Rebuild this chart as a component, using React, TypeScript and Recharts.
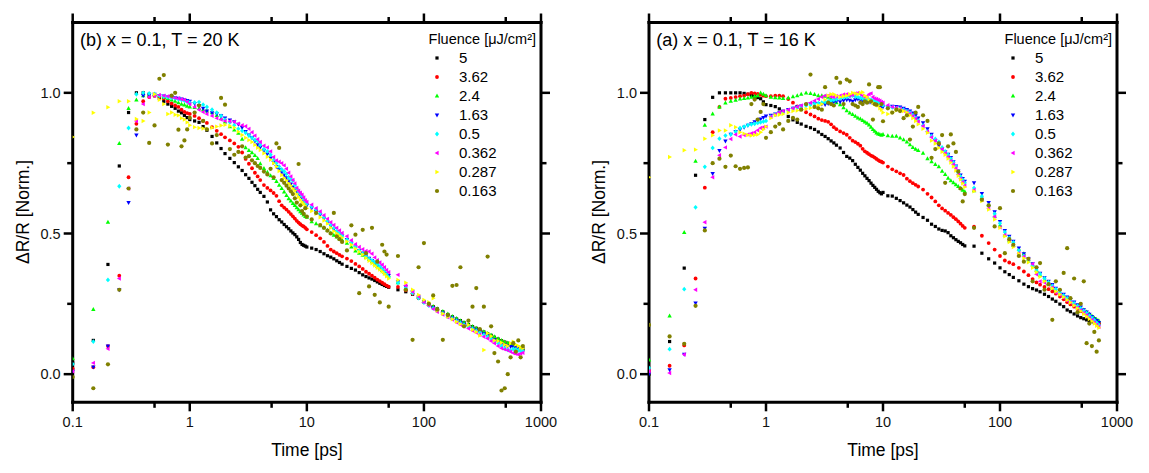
import { ScatterChart, Scatter, XAxis, YAxis } from "recharts";

// shared time grid [ps]
const TIMES = [
  0.1, 0.15, 0.2, 0.25, 0.3, 0.35, 0.4, 0.45, 0.5, 0.55, 0.6, 0.65, 0.7, 0.75, 0.8, 0.85, 0.9, 0.95, 1.0,
  1.1, 1.2, 1.3, 1.4, 1.55, 1.7, 1.85, 2.0, 2.2, 2.4, 2.6, 2.8, 3.0, 3.2, 3.4, 3.6, 3.8, 4.0, 4.3, 4.6, 4.9,
  5.2, 5.5, 5.8, 6.1, 6.4, 6.7, 7.0, 7.3, 7.6, 7.9, 8.2, 8.5, 8.8, 9.1, 9.4, 9.7,
  10, 11, 12, 13, 14, 15, 16, 17, 18, 19, 20, 22, 24, 26, 28, 30, 32, 34, 36, 38, 40, 42, 44, 46, 48, 50,
  60, 70, 80, 90, 100, 110, 120, 130, 145, 160, 175, 190, 205, 220, 240, 260, 280, 300, 325, 350, 375, 400,
  430, 460, 490, 520, 550, 580, 610, 640, 670, 700,
];

// (b) T = 20 K
const K20_F5 = [
  0.04, 0.12, 0.39, 0.74, 0.93, 1.0, 1.0, 0.995, 0.99, 0.98, 0.97, 0.96, 0.952, 0.945, 0.935, 0.929, 0.92, 0.912, 0.905,
  0.9, 0.895, 0.88, 0.867, 0.845, 0.822, 0.802, 0.784, 0.767, 0.752, 0.737, 0.724, 0.709, 0.696, 0.682, 0.67, 0.657, 0.646, 0.632, 0.612, 0.584,
  0.57, 0.56, 0.549, 0.541, 0.532, 0.524, 0.517, 0.509, 0.502, 0.496, 0.488, 0.479, 0.468, 0.461, 0.458, 0.455,
  0.452, 0.448, 0.443, 0.436, 0.428, 0.421, 0.416, 0.41, 0.403, 0.397, 0.391, 0.383, 0.376, 0.37, 0.361, 0.353, 0.347, 0.342, 0.338, 0.333, 0.328, 0.323, 0.319, 0.315, 0.312, 0.309,
  0.3, 0.293, 0.284, 0.272, 0.258, 0.248, 0.24, 0.232, 0.222, 0.212, 0.204, 0.196, 0.19, 0.183, 0.176, 0.169, 0.163, 0.157, 0.15, 0.144, 0.138, 0.131,
  0.125, 0.119, 0.114, 0.11, 0.106, 0.102, 0.098, 0.095, 0.092, 0.09,
];
const K20_F362 = [
  0.02, 0.025, 0.1, 0.35, 0.7, 0.89, 0.97, 0.985, 0.99, 0.985, 0.98, 0.97, 0.962, 0.955, 0.95, 0.94, 0.932, 0.928, 0.925,
  0.918, 0.91, 0.9, 0.893, 0.878, 0.865, 0.853, 0.842, 0.831, 0.82, 0.808, 0.788, 0.765, 0.748, 0.732, 0.716, 0.703, 0.69, 0.672, 0.662, 0.653,
  0.644, 0.634, 0.615, 0.6, 0.592, 0.585, 0.577, 0.569, 0.561, 0.553, 0.545, 0.539, 0.533, 0.528, 0.525, 0.52,
  0.515, 0.505, 0.494, 0.483, 0.47, 0.456, 0.443, 0.436, 0.43, 0.424, 0.419, 0.411, 0.402, 0.392, 0.383, 0.374, 0.364, 0.357, 0.35, 0.343, 0.336, 0.331, 0.325, 0.32, 0.315, 0.311,
  0.31, 0.298, 0.286, 0.27, 0.256, 0.246, 0.238, 0.228, 0.219, 0.21, 0.201, 0.194, 0.186, 0.18, 0.172, 0.166, 0.16, 0.153, 0.146, 0.14, 0.135, 0.128,
  0.122, 0.117, 0.112, 0.108, 0.104, 0.1, 0.096, 0.093, 0.09, 0.087,
];
const K20_F24 = [
  0.055, 0.23, 0.54, 0.82, 0.945, 0.975, 0.99, 0.992, 0.995, 0.99, 0.985, 0.98, 0.975, 0.97, 0.965, 0.96, 0.957, 0.953, 0.95,
  0.948, 0.945, 0.94, 0.936, 0.93, 0.92, 0.908, 0.897, 0.88, 0.868, 0.857, 0.835, 0.805, 0.795, 0.787, 0.778, 0.767, 0.748, 0.731, 0.718, 0.706,
  0.696, 0.685, 0.672, 0.66, 0.648, 0.635, 0.624, 0.616, 0.607, 0.6, 0.592, 0.585, 0.578, 0.572, 0.566, 0.561,
  0.558, 0.542, 0.535, 0.528, 0.521, 0.512, 0.502, 0.494, 0.488, 0.482, 0.477, 0.466, 0.452, 0.438, 0.43, 0.423, 0.416, 0.409, 0.4, 0.392, 0.384, 0.376, 0.369, 0.362, 0.356, 0.35,
  0.325, 0.306, 0.291, 0.276, 0.26, 0.25, 0.241, 0.233, 0.223, 0.214, 0.205, 0.198, 0.19, 0.184, 0.177, 0.17, 0.164, 0.158, 0.151, 0.145, 0.139, 0.133,
  0.126, 0.12, 0.115, 0.111, 0.107, 0.103, 0.099, 0.096, 0.093, 0.09,
];
const K20_F163 = [
  0.01, 0.025, 0.1, 0.3, 0.61, 0.85, 0.99, 0.993, 0.995, 0.99, 0.988, 0.985, 0.985, 0.982, 0.98, 0.978, 0.975, 0.972, 0.97,
  0.962, 0.955, 0.945, 0.935, 0.929, 0.925, 0.918, 0.91, 0.903, 0.897, 0.888, 0.876, 0.862, 0.85, 0.84, 0.828, 0.815, 0.806, 0.795, 0.782, 0.768,
  0.752, 0.738, 0.727, 0.718, 0.708, 0.698, 0.686, 0.676, 0.666, 0.658, 0.65, 0.643, 0.634, 0.626, 0.617, 0.609,
  0.6, 0.59, 0.578, 0.566, 0.553, 0.54, 0.527, 0.515, 0.506, 0.498, 0.491, 0.478, 0.465, 0.452, 0.439, 0.43, 0.42, 0.412, 0.404, 0.396, 0.389, 0.381, 0.373, 0.365, 0.357, 0.35,
  0.328, 0.31, 0.292, 0.274, 0.257, 0.246, 0.236, 0.227, 0.217, 0.208, 0.199, 0.191, 0.184, 0.177, 0.17, 0.163, 0.157, 0.15, 0.143, 0.136, 0.13, 0.122,
  0.115, 0.108, 0.103, 0.1, 0.098, 0.096, 0.094, 0.092, 0.09, 0.088,
];
const K20_F05 = [
  0.036, 0.116, 0.335, 0.668, 0.875, 0.995, 1.0, 0.998, 0.995, 0.99, 0.987, 0.985, 0.982, 0.98, 0.977, 0.975, 0.972, 0.968, 0.965,
  0.966, 0.967, 0.958, 0.95, 0.94, 0.93, 0.918, 0.905, 0.895, 0.885, 0.872, 0.865, 0.858, 0.848, 0.84, 0.833, 0.828, 0.815, 0.8, 0.792, 0.78,
  0.762, 0.75, 0.738, 0.728, 0.721, 0.712, 0.7, 0.692, 0.688, 0.672, 0.66, 0.648, 0.64, 0.632, 0.622, 0.612,
  0.606, 0.596, 0.585, 0.572, 0.558, 0.545, 0.532, 0.52, 0.508, 0.5, 0.491, 0.478, 0.466, 0.452, 0.44, 0.428, 0.418, 0.41, 0.404, 0.398, 0.391, 0.383, 0.374, 0.365, 0.355, 0.345,
  0.325, 0.306, 0.288, 0.27, 0.254, 0.244, 0.234, 0.225, 0.215, 0.205, 0.197, 0.189, 0.182, 0.175, 0.168, 0.161, 0.154, 0.148, 0.14, 0.133, 0.126, 0.118,
  0.11, 0.1, 0.092, 0.086, 0.084, 0.09, 0.088, 0.085, 0.083, 0.082,
];
const K20_F0362 = [
  0.01, 0.04, 0.09, 0.34, 0.66, 0.9, 0.96, 0.985, 0.99, 0.992, 0.99, 0.988, 0.985, 0.982, 0.98, 0.977, 0.975, 0.968, 0.96,
  0.95, 0.94, 0.932, 0.925, 0.918, 0.91, 0.905, 0.9, 0.899, 0.897, 0.89, 0.885, 0.881, 0.872, 0.86, 0.848, 0.835, 0.825, 0.812, 0.806, 0.792,
  0.772, 0.76, 0.755, 0.75, 0.742, 0.73, 0.716, 0.703, 0.69, 0.678, 0.662, 0.652, 0.645, 0.638, 0.628, 0.618,
  0.612, 0.602, 0.59, 0.578, 0.565, 0.552, 0.54, 0.53, 0.52, 0.511, 0.502, 0.49, 0.476, 0.462, 0.452, 0.444, 0.438, 0.436, 0.428, 0.415, 0.405, 0.397, 0.389, 0.38, 0.37, 0.362,
  0.353, 0.315, 0.293, 0.276, 0.256, 0.244, 0.232, 0.222, 0.212, 0.202, 0.194, 0.184, 0.176, 0.17, 0.162, 0.155, 0.148, 0.14, 0.133, 0.127, 0.118, 0.11,
  0.1, 0.092, 0.088, 0.085, 0.08, 0.075, 0.072, 0.07, 0.073, 0.076,
];
const K20_F0287 = [
  0.843, 0.929, 0.949, 0.97, 0.97, 0.907, 0.9, 0.93, 0.995, 0.975, 0.96, 0.925, 0.93, 0.922, 0.92, 0.91, 0.905, 0.895, 0.885,
  0.878, 0.875, 0.873, 0.872, 0.876, 0.88, 0.884, 0.886, 0.882, 0.876, 0.862, 0.85, 0.84, 0.832, 0.825, 0.815, 0.805, 0.797, 0.785, 0.773, 0.762,
  0.75, 0.738, 0.722, 0.708, 0.697, 0.688, 0.678, 0.67, 0.66, 0.652, 0.64, 0.63, 0.62, 0.612, 0.605, 0.598,
  0.59, 0.58, 0.57, 0.558, 0.546, 0.535, 0.52, 0.508, 0.5, 0.492, 0.485, 0.472, 0.46, 0.446, 0.435, 0.425, 0.413, 0.403, 0.394, 0.386, 0.378, 0.372, 0.365, 0.357, 0.348, 0.34,
  0.335, 0.325, 0.3, 0.282, 0.264, 0.256, 0.27, 0.226, 0.215, 0.204, 0.195, 0.186, 0.178, 0.172, 0.175, 0.158, 0.15, 0.137, 0.086, 0.145, 0.135, 0.12,
  0.118, 0.112, 0.105, 0.1, 0.11, 0.115, 0.105, 0.1, 0.095, 0.092,
];
const K20_F0163 = [
  -0.01, -0.05, 0.035, 0.3, 0.66, 0.87, 0.93, 0.822, 0.884, 1.05, 1.063, 0.816, 0.99, 1.0, 0.869, 0.81, 0.831, 0.87, 0.911,
  0.93, 0.955, 0.9, 0.87, 0.82, 0.85, 0.982, 0.958, 0.8, 0.78, 0.79, 0.81, 0.77, 0.775, 0.76, 0.75, 0.74, 0.733, 0.72, 0.71, 0.73,
  0.7, 0.82, 0.804, 0.69, 0.68, 0.67, 0.66, 0.65, 0.64, 0.625, 0.61, 0.747, 0.6, 0.58, 0.57, 0.59,
  0.56, 0.55, 0.573, 0.53, 0.52, 0.51, 0.5, 0.573, 0.49, 0.48, 0.47, 0.44, 0.529, 0.496, 0.288, 0.513, 0.43, 0.312, 0.52, 0.282, 0.4, 0.255, 0.46, 0.436, 0.425, 0.24,
  0.42, 0.3, 0.122, 0.38, 0.466, 0.25, 0.28, 0.23, 0.122, 0.21, 0.314, 0.317, 0.38, 0.17, 0.19, 0.24, 0.306, 0.16, 0.24, 0.418, 0.17, 0.075,
  0.045, -0.058, -0.05, 0.0, 0.06, 0.11, 0.08, 0.12, 0.06, 0.1,
];

// (a) T = 16 K
const K16_F5 = [
  0.0, 0.116, 0.377, 0.707, 0.905, 0.984, 1.0, 1.0, 1.0, 1.0, 1.0, 0.998, 0.995, 0.99, 0.988, 0.983, 0.979, 0.968, 0.958,
  0.955, 0.951, 0.943, 0.934, 0.916, 0.904, 0.895, 0.889, 0.881, 0.876, 0.87, 0.861, 0.852, 0.845, 0.837, 0.829, 0.822, 0.814, 0.804, 0.788, 0.774,
  0.768, 0.759, 0.746, 0.735, 0.725, 0.714, 0.705, 0.696, 0.688, 0.679, 0.671, 0.664, 0.657, 0.65, 0.645, 0.641,
  0.646, 0.634, 0.633, 0.625, 0.617, 0.609, 0.601, 0.594, 0.585, 0.576, 0.568, 0.557, 0.547, 0.533, 0.525, 0.516, 0.511, 0.509, 0.503, 0.492, 0.485, 0.478, 0.472, 0.467, 0.461, 0.456,
  0.455, 0.43, 0.41, 0.395, 0.378, 0.364, 0.354, 0.344, 0.332, 0.32, 0.311, 0.304, 0.299, 0.293, 0.284, 0.276, 0.267, 0.259, 0.249, 0.24, 0.228, 0.222,
  0.214, 0.207, 0.201, 0.197, 0.193, 0.19, 0.187, 0.184, 0.182, 0.18,
];
const K16_F362 = [
  0.012, 0.03, 0.102, 0.34, 0.663, 0.86, 0.95, 0.979, 0.982, 0.985, 0.988, 0.99, 0.995, 1.0, 0.998, 0.996, 0.993, 0.99, 0.988,
  0.988, 0.99, 0.99, 0.988, 0.978, 0.965, 0.952, 0.942, 0.931, 0.923, 0.916, 0.908, 0.903, 0.9, 0.897, 0.888, 0.878, 0.871, 0.863, 0.857, 0.851,
  0.84, 0.83, 0.825, 0.819, 0.812, 0.801, 0.792, 0.787, 0.782, 0.777, 0.774, 0.77, 0.765, 0.761, 0.757, 0.755,
  0.752, 0.738, 0.728, 0.721, 0.714, 0.708, 0.695, 0.686, 0.679, 0.673, 0.667, 0.656, 0.641, 0.628, 0.614, 0.6, 0.589, 0.581, 0.573, 0.566, 0.558, 0.551, 0.543, 0.535, 0.527, 0.52,
  0.524, 0.492, 0.466, 0.443, 0.42, 0.404, 0.397, 0.391, 0.378, 0.365, 0.352, 0.338, 0.326, 0.318, 0.31, 0.302, 0.294, 0.286, 0.276, 0.266, 0.256, 0.248,
  0.24, 0.232, 0.224, 0.217, 0.21, 0.203, 0.197, 0.19, 0.185, 0.18,
];
const K16_F24 = [
  0.051, 0.207, 0.504, 0.757, 0.885, 0.925, 0.95, 0.964, 0.97, 0.974, 0.978, 0.98, 0.982, 0.985, 0.988, 0.99, 1.0, 0.995, 0.99,
  0.985, 0.983, 0.982, 0.98, 0.982, 0.986, 0.99, 0.995, 1.0, 0.998, 0.994, 0.99, 0.99, 0.988, 0.985, 0.978, 0.971, 0.965, 0.958, 0.947, 0.937,
  0.929, 0.923, 0.917, 0.911, 0.907, 0.902, 0.897, 0.892, 0.886, 0.878, 0.87, 0.864, 0.858, 0.854, 0.852, 0.85,
  0.852, 0.848, 0.846, 0.846, 0.84, 0.834, 0.826, 0.816, 0.806, 0.8, 0.795, 0.786, 0.766, 0.755, 0.746, 0.738, 0.722, 0.71, 0.697, 0.688, 0.681, 0.674, 0.667, 0.66, 0.654, 0.649,
  0.652, 0.628, 0.602, 0.562, 0.53, 0.495, 0.475, 0.458, 0.444, 0.428, 0.408, 0.388, 0.37, 0.352, 0.336, 0.32, 0.307, 0.298, 0.288, 0.277, 0.268, 0.26,
  0.251, 0.243, 0.236, 0.228, 0.221, 0.214, 0.207, 0.2, 0.195, 0.19,
];
const K16_F163 = [
  0.0, 0.015, 0.07, 0.253, 0.518, 0.713, 0.795, 0.828, 0.852, 0.862, 0.869, 0.877, 0.884, 0.89, 0.897, 0.902, 0.907, 0.912, 0.917,
  0.92, 0.924, 0.929, 0.934, 0.94, 0.945, 0.95, 0.953, 0.957, 0.96, 0.963, 0.962, 0.96, 0.958, 0.962, 0.965, 0.968, 0.97, 0.968, 0.972, 0.975,
  0.973, 0.97, 0.975, 0.978, 0.976, 0.972, 0.97, 0.969, 0.967, 0.966, 0.964, 0.962, 0.96, 0.958, 0.955, 0.952,
  0.95, 0.948, 0.952, 0.951, 0.949, 0.945, 0.94, 0.935, 0.928, 0.92, 0.91, 0.893, 0.872, 0.852, 0.83, 0.812, 0.8, 0.79, 0.781, 0.77, 0.755, 0.74, 0.722, 0.708, 0.695, 0.685,
  0.68, 0.642, 0.61, 0.577, 0.542, 0.51, 0.49, 0.472, 0.448, 0.428, 0.41, 0.392, 0.374, 0.358, 0.342, 0.33, 0.318, 0.305, 0.295, 0.284, 0.274, 0.265,
  0.256, 0.246, 0.238, 0.229, 0.221, 0.213, 0.205, 0.197, 0.19, 0.183,
];
const K16_F05 = [
  0.022, 0.089, 0.302, 0.593, 0.737, 0.804, 0.837, 0.848, 0.852, 0.862, 0.875, 0.88, 0.885, 0.888, 0.89, 0.893, 0.895, 0.898, 0.9,
  0.915, 0.923, 0.927, 0.93, 0.937, 0.945, 0.948, 0.95, 0.955, 0.958, 0.962, 0.963, 0.965, 0.967, 0.97, 0.972, 0.975, 0.977, 0.98, 0.983, 0.985,
  0.988, 0.99, 0.987, 0.985, 0.982, 0.98, 0.979, 0.978, 0.976, 0.975, 0.972, 0.97, 0.967, 0.965, 0.962, 0.96,
  0.956, 0.951, 0.948, 0.946, 0.944, 0.94, 0.935, 0.93, 0.921, 0.911, 0.901, 0.884, 0.862, 0.846, 0.836, 0.826, 0.806, 0.792, 0.78, 0.766, 0.752, 0.738, 0.716, 0.703, 0.691, 0.68,
  0.662, 0.632, 0.6, 0.57, 0.536, 0.505, 0.484, 0.468, 0.44, 0.42, 0.402, 0.386, 0.37, 0.356, 0.34, 0.327, 0.314, 0.302, 0.29, 0.28, 0.27, 0.261,
  0.252, 0.243, 0.234, 0.225, 0.217, 0.208, 0.2, 0.192, 0.183, 0.175,
];
const K16_F0362 = [
  0.01, 0.004, 0.07, 0.3, 0.54, 0.7, 0.778, 0.806, 0.836, 0.852, 0.845, 0.85, 0.852, 0.856, 0.86, 0.867, 0.875, 0.878, 0.88,
  0.915, 0.923, 0.93, 0.935, 0.94, 0.945, 0.95, 0.955, 0.96, 0.965, 0.972, 0.978, 0.985, 0.99, 0.99, 0.986, 0.985, 0.988, 0.99, 0.994, 0.995,
  0.99, 0.992, 0.998, 1.0, 0.995, 0.99, 0.985, 0.988, 0.995, 0.998, 0.985, 0.98, 0.978, 0.975, 0.972, 0.968,
  0.965, 0.956, 0.95, 0.947, 0.943, 0.936, 0.932, 0.926, 0.918, 0.908, 0.898, 0.882, 0.862, 0.842, 0.83, 0.82, 0.8, 0.785, 0.772, 0.758, 0.745, 0.732, 0.71, 0.695, 0.682, 0.67,
  0.655, 0.62, 0.59, 0.56, 0.522, 0.495, 0.475, 0.458, 0.43, 0.418, 0.41, 0.392, 0.355, 0.33, 0.326, 0.318, 0.308, 0.29, 0.282, 0.272, 0.262, 0.255,
  0.245, 0.236, 0.227, 0.218, 0.21, 0.2, 0.193, 0.184, 0.176, 0.168,
];
const K16_F0287 = [
  0.7, 0.772, 0.796, 0.798, 0.837, 0.849, 0.866, 0.866, 0.885, 0.878, 0.86, 0.855, 0.85, 0.848, 0.85, 0.852, 0.86, 0.87, 0.88,
  0.91, 0.92, 0.922, 0.925, 0.93, 0.935, 0.937, 0.94, 0.943, 0.946, 0.95, 0.955, 0.96, 0.975, 0.99, 0.995, 0.995, 0.99, 0.985, 0.988, 0.99,
  0.995, 1.0, 0.998, 0.995, 1.0, 1.002, 0.99, 0.985, 0.975, 0.97, 0.965, 0.96, 0.957, 0.955, 0.945, 0.94,
  0.93, 0.925, 0.93, 0.938, 0.94, 0.935, 0.93, 0.92, 0.91, 0.9, 0.888, 0.872, 0.858, 0.83, 0.82, 0.805, 0.79, 0.78, 0.766, 0.752, 0.738, 0.724, 0.705, 0.692, 0.678, 0.665,
  0.65, 0.615, 0.585, 0.55, 0.52, 0.49, 0.47, 0.452, 0.428, 0.412, 0.398, 0.378, 0.362, 0.346, 0.33, 0.318, 0.305, 0.294, 0.283, 0.274, 0.264, 0.255,
  0.244, 0.234, 0.224, 0.214, 0.205, 0.196, 0.188, 0.18, 0.172, 0.165,
];
const K16_F0163 = [
  0.175, 0.134, 0.108, 0.243, 0.511, 0.75, 0.766, 0.737, 0.777, 0.739, 0.73, 0.733, 0.735, 0.96, 0.976, 0.905, 0.932, 0.96, 0.84,
  0.86, 0.88, 0.89, 0.87, 0.9, 0.911, 0.905, 0.94, 0.96, 1.065, 0.95, 0.945, 0.94, 1.02, 0.965, 0.96, 0.955, 1.053, 1.036, 0.96, 1.047,
  1.041, 0.96, 0.955, 0.95, 0.965, 0.96, 0.97, 0.965, 1.03, 0.97, 0.905, 0.96, 0.958, 1.02, 1.02, 0.96,
  0.899, 0.945, 0.93, 0.94, 0.935, 0.91, 0.92, 0.834, 0.88, 0.93, 0.95, 0.92, 0.9, 0.769, 0.8, 0.82, 0.85, 0.68, 0.81, 0.852, 0.82, 0.79, 0.72, 0.66, 0.614, 0.64,
  0.52, 0.62, 0.6, 0.525, 0.59, 0.43, 0.48, 0.46, 0.42, 0.4, 0.41, 0.33, 0.38, 0.395, 0.3, 0.32, 0.193, 0.33, 0.3, 0.36, 0.448, 0.27,
  0.34, 0.22, 0.25, 0.33, 0.11, 0.18, 0.1, 0.15, 0.08, 0.12,
];

const FLUENCES = ["5", "3.62", "2.4", "1.63", "0.5", "0.362", "0.287", "0.163"];
const COLORS = ["#000000", "#ff0000", "#00ff00", "#0000ff", "#00ffff", "#ff00ff", "#ffff00", "#808000"];
const SHAPES = ["square", "circle", "up", "down", "diamond", "left", "right", "dot"];

const X_TICKS = [0.1, 0.5, 1, 5, 10, 50, 100, 500, 1000];
const Y_TICKS = [0, 0.25, 0.5, 0.75, 1];

const FONT = "'Liberation Sans', Arial, sans-serif";
const PLOT_TOP = 22.5;
const PLOT_BOTTOM = 402.3;
const H = 473;
const AX = 1; // thickness reserved for each axis

const toPoints = (vals: number[]) =>
  TIMES.map((t, i) => ({ t, v: vals[i] })).filter((p) => typeof p.v === "number");

function Marker({ kind, cx, cy, color }: { kind: string; cx: number; cy: number; color: string }) {
  switch (kind) {
    case "square":
      return <rect x={cx - 1.6} y={cy - 1.6} width={3.2} height={3.2} fill={color} />;
    case "circle":
      return <circle cx={cx} cy={cy} r={1.9} fill={color} />;
    case "up":
      return <polygon points={`${cx},${cy - 2.4} ${cx - 2.2},${cy + 1.6} ${cx + 2.2},${cy + 1.6}`} fill={color} />;
    case "down":
      return <polygon points={`${cx - 2.2},${cy - 1.6} ${cx + 2.2},${cy - 1.6} ${cx},${cy + 2.4}`} fill={color} />;
    case "diamond":
      return <polygon points={`${cx},${cy - 2.4} ${cx + 2.1},${cy} ${cx},${cy + 2.4} ${cx - 2.1},${cy}`} fill={color} />;
    case "left":
      return <polygon points={`${cx - 2.4},${cy} ${cx + 1.6},${cy - 2.2} ${cx + 1.6},${cy + 2.2}`} fill={color} />;
    case "right":
      return <polygon points={`${cx + 2.4},${cy} ${cx - 1.6},${cy - 2.2} ${cx - 1.6},${cy + 2.2}`} fill={color} />;
    default:
      return <circle cx={cx} cy={cy} r={2.1} fill={color} />;
  }
}

const isMajorX = (v: number) => Math.abs(Math.log10(v) - Math.round(Math.log10(v))) < 1e-6;
const isMajorY = (v: number) => Math.abs(v * 2 - Math.round(v * 2)) < 1e-6;

const BottomTick = (p: any) => {
  const major = isMajorX(p.payload.value);
  return (
    <g>
      <line x1={p.x} x2={p.x} y1={p.y} y2={p.y + (major ? 9 : 5.5)} stroke="#000" strokeWidth={2.5} />
      {major && (
        <text x={p.x} y={p.y + 25} textAnchor="middle" fontSize={14.5} fontFamily={FONT} fill="#111">
          {String(p.payload.value)}
        </text>
      )}
    </g>
  );
};
const TopTick = (p: any) => {
  const major = isMajorX(p.payload.value);
  return <line x1={p.x} x2={p.x} y1={p.y} y2={p.y - (major ? 9 : 5.5)} stroke="#000" strokeWidth={2.5} />;
};
const LeftTick = (p: any) => {
  const major = isMajorY(p.payload.value);
  return (
    <g>
      <line x1={p.x} x2={p.x - (major ? 9 : 5.5)} y1={p.y} y2={p.y} stroke="#000" strokeWidth={2.5} />
      {major && (
        <text x={p.x - 12} y={p.y + 5} textAnchor="end" fontSize={14.5} fontFamily={FONT} fill="#111">
          {p.payload.value.toFixed(1)}
        </text>
      )}
    </g>
  );
};
const RightTick = (p: any) => {
  const major = isMajorY(p.payload.value);
  return <line x1={p.x} x2={p.x + (major ? 9 : 5.5)} y1={p.y} y2={p.y} stroke="#000" strokeWidth={2.5} />;
};

const AXIS_LINE = { stroke: "#000", strokeWidth: 3, strokeLinecap: "square" as const };

type PanelProps = {
  left: number;
  width: number;
  plotLeft: number;
  plotRight: number;
  title: string;
  series: number[][];
};

function Panel({ left, width, plotLeft, plotRight, title, series }: PanelProps) {
  const midX = (plotLeft + plotRight) / 2;
  const midY = (PLOT_TOP + PLOT_BOTTOM) / 2;
  const markerX = plotRight - 104;
  const labelX = plotRight - 82;
  return (
    <>
      <div style={{ position: "absolute", left, top: 0 }}>
        <ScatterChart
          width={width}
          height={H}
          margin={{
            top: PLOT_TOP - AX,
            bottom: H - PLOT_BOTTOM - AX,
            left: plotLeft - left - AX,
            right: left + width - plotRight - AX,
          }}
        >
          <XAxis
            xAxisId="b"
            dataKey="t"
            type="number"
            scale="log"
            domain={[0.1, 1000]}
            allowDataOverflow
            ticks={X_TICKS}
            interval={0}
            height={AX}
            tickSize={0}
            tickMargin={0}
            tickLine={false}
            axisLine={AXIS_LINE}
            tick={BottomTick}
          />
          <XAxis
            xAxisId="t"
            orientation="top"
            dataKey="t"
            type="number"
            scale="log"
            domain={[0.1, 1000]}
            allowDataOverflow
            ticks={X_TICKS}
            interval={0}
            height={AX}
            tickSize={0}
            tickMargin={0}
            tickLine={false}
            axisLine={AXIS_LINE}
            tick={TopTick}
          />
          <YAxis
            yAxisId="l"
            dataKey="v"
            type="number"
            domain={[-0.1, 1.25]}
            allowDataOverflow
            ticks={Y_TICKS}
            interval={0}
            width={AX}
            tickSize={0}
            tickMargin={0}
            tickLine={false}
            axisLine={AXIS_LINE}
            tick={LeftTick}
          />
          <YAxis
            yAxisId="r"
            orientation="right"
            dataKey="v"
            type="number"
            domain={[-0.1, 1.25]}
            allowDataOverflow
            ticks={Y_TICKS}
            interval={0}
            width={AX}
            tickSize={0}
            tickMargin={0}
            tickLine={false}
            axisLine={AXIS_LINE}
            tick={RightTick}
          />
          {series.map((vals, i) => (
            <Scatter
              key={FLUENCES[i]}
              name={FLUENCES[i]}
              xAxisId="b"
              yAxisId="l"
              data={toPoints(vals)}
              isAnimationActive={false}
              shape={(p: any) => <Marker kind={SHAPES[i]} color={COLORS[i]} cx={p.cx} cy={p.cy} />}
            />
          ))}
        </ScatterChart>
      </div>

      <div style={{ position: "absolute", left: plotLeft + 7.3, top: 28.5, fontSize: 18, lineHeight: "22px", whiteSpace: "nowrap" }}>
        {title}
      </div>

      <div
        style={{ position: "absolute", left: plotRight - 5 - 200, width: 200, top: 30, fontSize: 14.5, lineHeight: "18px", textAlign: "right", whiteSpace: "nowrap" }}
      >
        Fluence [μJ/cm²]
      </div>
      {FLUENCES.map((f, i) => {
        const rowY = 58.3 + 19 * i;
        return (
          <div key={f}>
            <svg width={8} height={8} style={{ position: "absolute", left: markerX - 4, top: rowY - 4, display: "block" }}>
              <Marker kind={SHAPES[i]} color={COLORS[i]} cx={4} cy={4} />
            </svg>
            <div style={{ position: "absolute", left: labelX, top: rowY - 9, fontSize: 15, lineHeight: "18px", whiteSpace: "nowrap" }}>{f}</div>
          </div>
        );
      })}

      <div style={{ position: "absolute", left: midX - 100, width: 200, top: 439, textAlign: "center", fontSize: 17.5, lineHeight: "22px" }}>
        Time [ps]
      </div>
      <div
        style={{
          position: "absolute",
          left: plotLeft - 50 - 100,
          top: midY - 11,
          width: 200,
          height: 22,
          textAlign: "center",
          fontSize: 17.5,
          lineHeight: "22px",
          transform: "rotate(-90deg)",
          whiteSpace: "nowrap",
        }}
      >
        ΔR/R [Norm.]
      </div>
    </>
  );
}

export default function App() {
  return (
    <div style={{ position: "absolute", left: 0, top: 0, width: 1149, height: H, background: "#fff", fontFamily: FONT, color: "#000" }}>
      <Panel
        left={0}
        width={600}
        plotLeft={72.7}
        plotRight={541}
        title="(b) x = 0.1, T = 20 K"
        series={[K20_F5, K20_F362, K20_F24, K20_F163, K20_F05, K20_F0362, K20_F0287, K20_F0163]}
      />
      <Panel
        left={576}
        width={573}
        plotLeft={649}
        plotRight={1117}
        title="(a) x = 0.1, T = 16 K"
        series={[K16_F5, K16_F362, K16_F24, K16_F163, K16_F05, K16_F0362, K16_F0287, K16_F0163]}
      />
    </div>
  );
}
